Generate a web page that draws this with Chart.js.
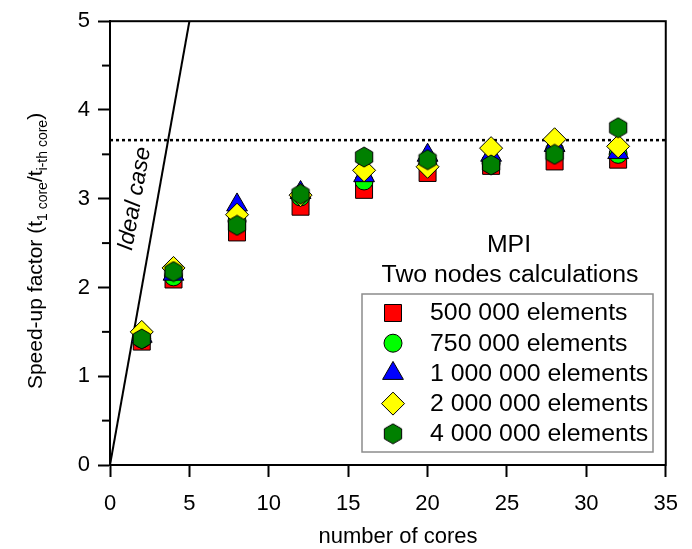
<!DOCTYPE html>
<html>
<head>
<meta charset="utf-8">
<script src="https://cdn.jsdelivr.net/npm/chart.js@4"></script>
<style>
  body { margin: 0; background: #fff; }
  #wrap { width: 692px; height: 549px; }
</style>
</head>
<body>
<div id="wrap"><canvas id="myChart" width="692" height="549"></canvas></div>
<script>
// data
const cores = [2, 4, 8, 12, 16, 20, 24, 28, 32];
const el500k = [1.39, 2.09, 2.62, 2.91, 3.10, 3.29, 3.37, 3.42, 3.44];
const el750k = [1.42, 2.12, 2.75, 3.02, 3.20, 3.38, 3.40, 3.55, 3.50];
const el1M = [1.45, 2.15, 2.93, 3.07, 3.26, 3.49, 3.49, 3.60, 3.52];
const el2M = [1.50, 2.22, 2.82, 3.04, 3.32, 3.36, 3.57, 3.67, 3.59];
const el4M = [1.42, 2.18, 2.70, 3.05, 3.47, 3.44, 3.38, 3.50, 3.80];
const seriesNames = ['500 000 elements', '750 000 elements', '1 000 000 elements', '2 000 000 elements', '4 000 000 elements'];
const idealX = [0, 5];
const idealY = [0, 5];
const limitX = [0, 35];
const limitY = [3.66, 3.66];
const xTicks = [0, 5, 10, 15, 20, 25, 30, 35];
const yTicks = [0, 1, 2, 3, 4, 5];

const FONT = "'Liberation Sans', Arial, sans-serif";
Chart.defaults.font.family = FONT;
Chart.defaults.color = '#000';

function pts(xs, ys) { return xs.map((x, i) => ({ x: x, y: ys[i] })); }

// hexagon marker (pointy top)
const hex = document.createElement('canvas');
hex.width = 22; hex.height = 22;
(function () {
  const c = hex.getContext('2d');
  c.beginPath();
  for (let k = 0; k < 6; k++) {
    const a = -Math.PI / 2 + k * Math.PI / 3;
    const px = 11 + 10 * Math.cos(a), py = 11 + 10 * Math.sin(a);
    if (k === 0) c.moveTo(px, py); else c.lineTo(px, py);
  }
  c.closePath();
  c.fillStyle = '#008000';
  c.fill();
  c.lineWidth = 1;
  c.strokeStyle = '#000';
  c.stroke();
})();

const markers = [
  { style: 'rect', r: 12, color: '#ff0000' },
  { style: 'circle', r: 9, color: '#00ff00' },
  { style: 'triangle', r: 12, color: '#0000ff' },
  { style: 'rectRot', r: 11.5, color: '#ffff00' },
  { style: hex, r: 10, color: '#008000' }
];
const seriesData = [el500k, el750k, el1M, el2M, el4M];

const scatterSets = seriesData.map((ys, i) => ({
  type: 'scatter',
  label: seriesNames[i],
  data: pts(cores, ys),
  pointStyle: markers[i].style,
  pointRadius: markers[i].r,
  pointHoverRadius: markers[i].r,
  backgroundColor: markers[i].color,
  borderColor: '#000',
  borderWidth: 1,
  order: 5 - i
}));

// text slightly stretched sideways, like the original export
function wideText(ctx, txt, x, y, align) {
  ctx.save();
  ctx.translate(x, y);
  ctx.scale(1.08, 1);
  ctx.textAlign = align;
  ctx.fillText(txt, 0, 0);
  ctx.restore();
}

const extras = {
  id: 'extras',
  afterDraw(chart) {
    const ctx = chart.ctx;
    const a = chart.chartArea;
    const xs = chart.scales.x, ys = chart.scales.y;
    ctx.save();
    // frame top/right
    ctx.strokeStyle = '#000';
    ctx.lineWidth = 2;
    ctx.strokeRect(a.left, a.top, a.right - a.left, a.bottom - a.top);
    // minor y ticks
    for (let v = 0.5; v < 5; v += 1) {
      const py = ys.getPixelForValue(v);
      ctx.beginPath();
      ctx.moveTo(a.left, py);
      ctx.lineTo(a.left - 8, py);
      ctx.stroke();
    }
    // ideal case label
    const p0x = xs.getPixelForValue(0), p0y = ys.getPixelForValue(0);
    const p1x = xs.getPixelForValue(5), p1y = ys.getPixelForValue(5);
    const ang = Math.atan2(p1y - p0y, p1x - p0x);
    ctx.save();
    ctx.translate(141, 200);
    ctx.rotate(ang);
    ctx.font = 'italic 23px ' + FONT;
    ctx.fillStyle = '#000';
    ctx.textAlign = 'center';
    ctx.textBaseline = 'alphabetic';
    ctx.fillText('Ideal case', 0, 0);
    ctx.restore();

    // x title
    ctx.font = '22px ' + FONT;
    ctx.textAlign = 'center';
    ctx.textBaseline = 'middle';
    ctx.fillText('number of cores', 398, 537);

    // y title with subscripts
    ctx.save();
    ctx.translate(42, 251);
    ctx.rotate(-Math.PI / 2);
    const parts = [
      ['Speed-up factor (t', 21, 0],
      ['1 core', 14, 5],
      ['/t', 21, 0],
      ['i-th core', 14, 5],
      [')', 21, 0]
    ];
    let total = 0;
    parts.forEach(p => { ctx.font = p[1] + 'px ' + FONT; total += ctx.measureText(p[0]).width; });
    let cx = -total / 2;
    ctx.textAlign = 'left';
    ctx.textBaseline = 'alphabetic';
    parts.forEach(p => {
      ctx.font = p[1] + 'px ' + FONT;
      ctx.fillText(p[0], cx, p[2]);
      cx += ctx.measureText(p[0]).width;
    });
    ctx.restore();

    // legend title
    ctx.font = '23px ' + FONT;
    ctx.textBaseline = 'middle';
    wideText(ctx, 'MPI', 509, 246, 'center');
    wideText(ctx, 'Two nodes calculations', 510, 276, 'center');

    // legend box
    ctx.strokeStyle = '#8c8c8c';
    ctx.lineWidth = 1.5;
    ctx.strokeRect(362, 294, 291, 158);
    for (let i = 0; i < seriesNames.length; i++) {
      const yy = 313 + i * 30.2;
      ctx.fillStyle = markers[i].color;
      ctx.strokeStyle = '#000';
      ctx.lineWidth = 1;
      Chart.helpers.drawPoint(ctx, {
        pointStyle: markers[i].style,
        radius: markers[i].r,
        rotation: 0,
        borderWidth: 1
      }, 393, yy);
      ctx.fillStyle = '#000';
      ctx.font = '23px ' + FONT;
      wideText(ctx, seriesNames[i], 430, yy + 1, 'left');
    }
    ctx.restore();
  }
};

new Chart(document.getElementById('myChart'), {
  type: 'scatter',
  data: {
    datasets: [
      ...scatterSets,
      {
        type: 'line',
        label: 'ideal',
        data: pts(idealX, idealY),
        borderColor: '#000',
        borderWidth: 2,
        pointRadius: 0,
        showLine: true,
        order: 7
      },
      {
        type: 'line',
        label: 'limit',
        data: pts(limitX, limitY),
        borderColor: '#000',
        borderWidth: 2.5,
        borderDash: [3, 3],
        pointRadius: 0,
        showLine: true,
        order: 6
      }
    ]
  },
  plugins: [extras],
  options: {
    responsive: false,
    animation: false,
    layout: { padding: { left: 0, right: 25, top: 16, bottom: 0 } },
    plugins: { legend: { display: false }, tooltip: { enabled: false } },
    scales: {
      x: {
        type: 'linear',
        min: 0, max: 35,
        afterFit(s) { s.height = 84; },
        afterBuildTicks(s) { s.ticks = xTicks.map(v => ({ value: v })); },
        ticks: { font: { size: 22 }, color: '#000', padding: 14, maxRotation: 0 },
        grid: { drawOnChartArea: false, tickLength: 12, tickWidth: 2, tickColor: '#000' },
        border: { display: true, color: '#000', width: 2 }
      },
      y: {
        type: 'linear',
        min: 0, max: 5,
        afterFit(s) { s.width = 110; },
        afterBuildTicks(s) { s.ticks = yTicks.map(v => ({ value: v })); },
        ticks: { font: { size: 22 }, color: '#000', padding: 8 },
        grid: { drawOnChartArea: false, tickLength: 12, tickWidth: 2, tickColor: '#000' },
        border: { display: true, color: '#000', width: 2 }
      }
    }
  }
});
</script>
</body>
</html>
